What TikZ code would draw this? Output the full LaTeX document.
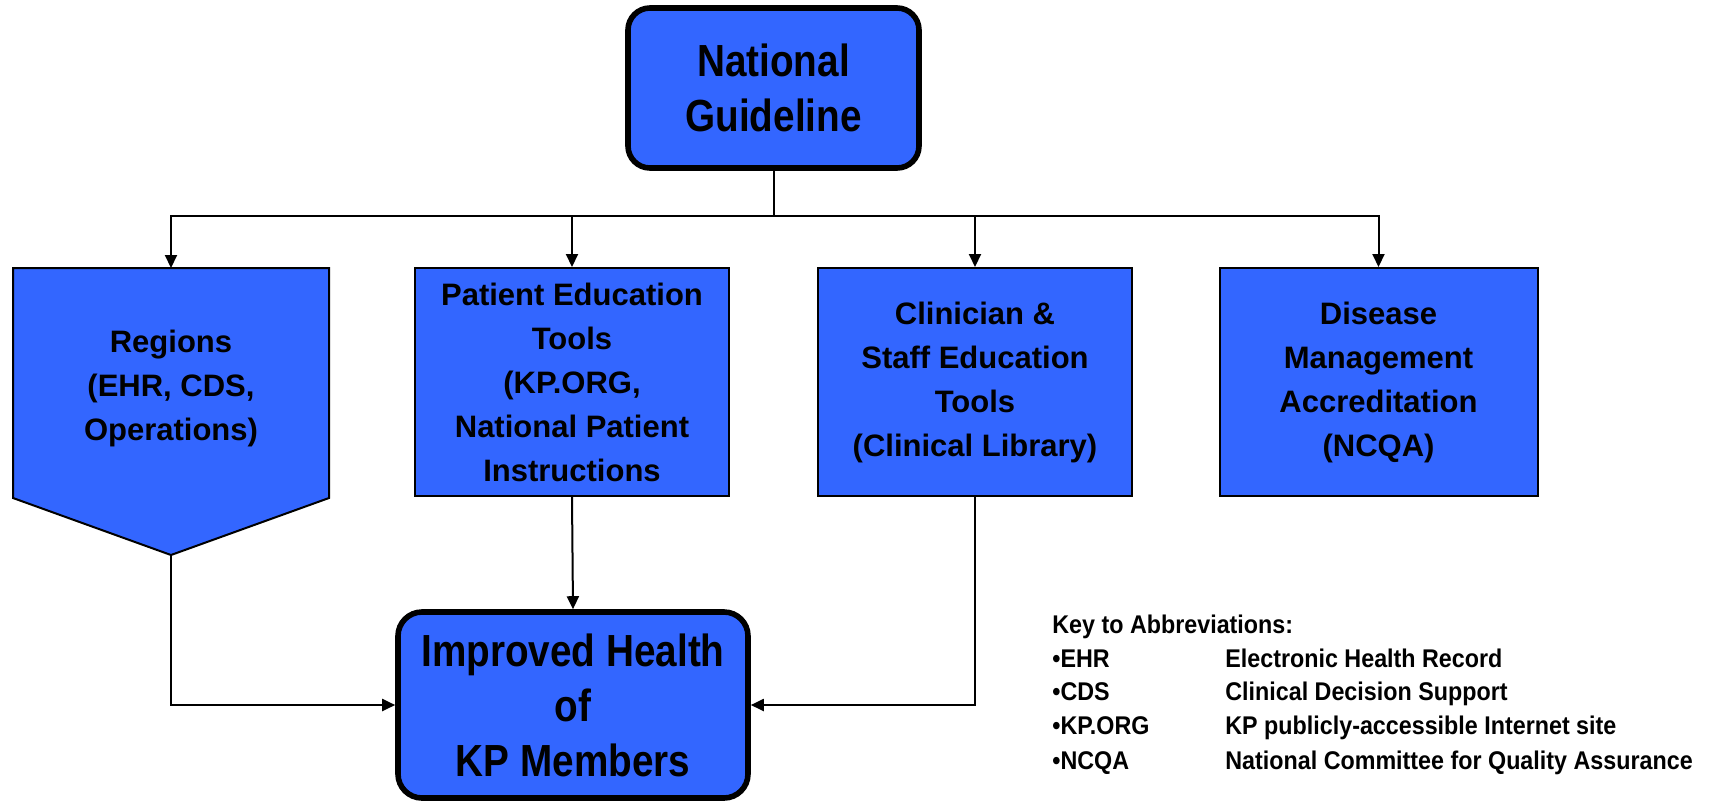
\documentclass[tikz,border=0pt]{standalone}
\usepackage{fontspec}
\setmainfont{Liberation Sans}
\newfontfamily\bigf[FakeStretch=0.86]{Liberation Sans}
\newfontfamily\keyf[FakeStretch=0.91]{Liberation Sans}
\usetikzlibrary{arrows.meta}
\definecolor{boxblue}{RGB}{51,102,255}
\begin{document}
\begin{tikzpicture}[x=0.5pt,y=-0.5pt,
  arr/.style={draw=black,line width=1pt,-{Triangle[length=6.5pt,width=6pt]}},
  conn/.style={draw=black,line width=1pt},
  bigbox/.style={draw=black,line width=2.8pt,fill=boxblue,rounded corners=11pt,align=center,
    font=\bigf\bfseries\fontsize{22.5}{27.5}\selectfont,inner sep=0pt},
  midbox/.style={draw=black,line width=1pt,fill=boxblue,align=center,minimum width=157pt,
    minimum height=114pt,font=\bfseries\fontsize{15.5}{22}\selectfont,inner sep=0pt},
  boxtxt/.style={align=center,font=\bfseries\fontsize{15.5}{22}\selectfont,inner sep=0pt},
  keytxt/.style={font=\keyf\bfseries\fontsize{12.8}{17}\selectfont,anchor=base west,inner sep=0pt}]
\useasboundingbox (0,0) rectangle (1710,800);

% top box
\node[bigbox,minimum width=145.5pt,minimum height=80pt] (ng) at (773.5,88) {National\\Guideline};

% second row
\path[draw=black,line width=1pt,fill=boxblue] (13,268) -- (329,268) -- (329,498) -- (171,555) -- (13,498) -- cycle;
\node[boxtxt] (reg) at (171,388) {Regions\\(EHR, CDS,\\Operations)};
\coordinate (regtop) at (171,268);
\coordinate (regtip) at (171,555);

\node[midbox] (pat) at (572,382) {Patient Education\\Tools\\(KP.ORG,\\National Patient\\Instructions};
\node[midbox] (cli) at (975,382) {Clinician \&\\Staff Education\\Tools\\(Clinical Library)};
\node[midbox,minimum width=159pt] (dis) at (1378.5,382) {Disease\\Management\\Accreditation\\(NCQA)};

% bottom box
\node[bigbox,minimum width=175pt,minimum height=93pt,rounded corners=12pt] (imp) at (573,705) {Improved Health\\of\\KP Members};

% connectors
\coordinate (bus) at (773.5,216);
\draw[conn] (ng.south) -- (bus);
\draw[arr] (bus) -| (regtop);
\draw[arr] (bus) -| (pat.north);
\draw[arr] (bus) -| (cli.north);
\draw[arr] (bus) -| (dis.north);

\draw[arr] (regtip) |- (imp.west);
\draw[arr] (pat.south) -- (imp.north);
\draw[arr] (cli.south) |- (imp.east);

% key
\node[keytxt] (k0) at (1052,633) {Key to Abbreviations:};
\node[keytxt] (k1) at (1052,667) {•EHR};
\node[keytxt] (k1d) at (1225,667) {Electronic Health Record};
\node[keytxt] (k2) at (1052,700) {•CDS};
\node[keytxt] (k2d) at (1225,700) {Clinical Decision Support};
\node[keytxt] (k3) at (1052,734) {•KP.ORG};
\node[keytxt] (k3d) at (1225,734) {KP publicly-accessible Internet site};
\node[keytxt] (k4) at (1052,769) {•NCQA};
\node[keytxt] (k4d) at (1225,769) {National Committee for Quality Assurance};
\end{tikzpicture}
\end{document}
